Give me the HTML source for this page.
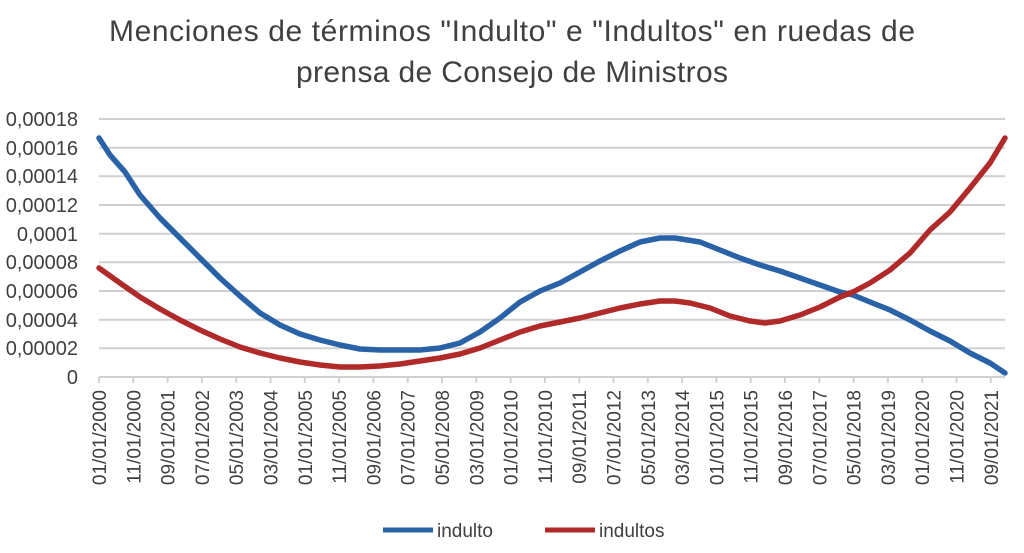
<!DOCTYPE html>
<html><head><meta charset="utf-8"><style>
body{margin:0;background:#fff;}
svg{display:block;font-family:"Liberation Sans",sans-serif;}
</style></head><body>
<svg width="1024" height="553" viewBox="0 0 1024 553">
<text x="512" y="41" font-size="30" fill="#404040" text-anchor="middle" textLength="806">Menciones de términos "Indulto" e "Indultos" en ruedas de</text>
<text x="512" y="82" font-size="30" fill="#404040" text-anchor="middle" textLength="432">prensa de Consejo de Ministros</text>
<g stroke="#d0d0d0" stroke-width="2">
<line x1="99" x2="1005" y1="119" y2="119"/><line x1="99" x2="1005" y1="147.7" y2="147.7"/>
<line x1="99" x2="1005" y1="176.3" y2="176.3"/><line x1="99" x2="1005" y1="205" y2="205"/>
<line x1="99" x2="1005" y1="233.7" y2="233.7"/><line x1="99" x2="1005" y1="262.3" y2="262.3"/>
<line x1="99" x2="1005" y1="291" y2="291"/><line x1="99" x2="1005" y1="319.7" y2="319.7"/>
<line x1="99" x2="1005" y1="348.3" y2="348.3"/><line x1="99" x2="1005" y1="377" y2="377"/>
</g>
<g font-size="20" fill="#404040" text-anchor="end">
<text x="78" y="126">0,00018</text><text x="78" y="155">0,00016</text><text x="78" y="183">0,00014</text>
<text x="78" y="212">0,00012</text><text x="78" y="241">0,0001</text><text x="78" y="269">0,00008</text>
<text x="78" y="298">0,00006</text><text x="78" y="327">0,00004</text><text x="78" y="355">0,00002</text>
<text x="78" y="384">0</text>
</g>
<g stroke="#d0d0d0" stroke-width="2">
<line x1="99" x2="99" y1="377" y2="383"/><line x1="133.3" x2="133.3" y1="377" y2="383"/><line x1="167.6" x2="167.6" y1="377" y2="383"/><line x1="201.9" x2="201.9" y1="377" y2="383"/><line x1="236.2" x2="236.2" y1="377" y2="383"/><line x1="270.5" x2="270.5" y1="377" y2="383"/><line x1="304.8" x2="304.8" y1="377" y2="383"/><line x1="339.1" x2="339.1" y1="377" y2="383"/><line x1="373.4" x2="373.4" y1="377" y2="383"/><line x1="407.7" x2="407.7" y1="377" y2="383"/><line x1="442" x2="442" y1="377" y2="383"/><line x1="476.3" x2="476.3" y1="377" y2="383"/><line x1="510.6" x2="510.6" y1="377" y2="383"/><line x1="544.9" x2="544.9" y1="377" y2="383"/><line x1="579.2" x2="579.2" y1="377" y2="383"/><line x1="613.5" x2="613.5" y1="377" y2="383"/><line x1="647.8" x2="647.8" y1="377" y2="383"/><line x1="682.1" x2="682.1" y1="377" y2="383"/><line x1="716.4" x2="716.4" y1="377" y2="383"/><line x1="750.7" x2="750.7" y1="377" y2="383"/><line x1="785" x2="785" y1="377" y2="383"/><line x1="819.3" x2="819.3" y1="377" y2="383"/><line x1="853.6" x2="853.6" y1="377" y2="383"/><line x1="887.9" x2="887.9" y1="377" y2="383"/><line x1="922.2" x2="922.2" y1="377" y2="383"/><line x1="956.5" x2="956.5" y1="377" y2="383"/><line x1="990.8" x2="990.8" y1="377" y2="383"/>
</g>
<g font-size="19" fill="#404040" text-anchor="end">
<text transform="translate(106,390) rotate(-90)">01/01/2000</text>
<text transform="translate(140.3,390) rotate(-90)">11/01/2000</text>
<text transform="translate(174.6,390) rotate(-90)">09/01/2001</text>
<text transform="translate(208.9,390) rotate(-90)">07/01/2002</text>
<text transform="translate(243.2,390) rotate(-90)">05/01/2003</text>
<text transform="translate(277.5,390) rotate(-90)">03/01/2004</text>
<text transform="translate(311.8,390) rotate(-90)">01/01/2005</text>
<text transform="translate(346.1,390) rotate(-90)">11/01/2005</text>
<text transform="translate(380.4,390) rotate(-90)">09/01/2006</text>
<text transform="translate(414.7,390) rotate(-90)">07/01/2007</text>
<text transform="translate(449,390) rotate(-90)">05/01/2008</text>
<text transform="translate(483.3,390) rotate(-90)">03/01/2009</text>
<text transform="translate(517.6,390) rotate(-90)">01/01/2010</text>
<text transform="translate(551.9,390) rotate(-90)">11/01/2010</text>
<text transform="translate(586.2,390) rotate(-90)">09/01/2011</text>
<text transform="translate(620.5,390) rotate(-90)">07/01/2012</text>
<text transform="translate(654.8,390) rotate(-90)">05/01/2013</text>
<text transform="translate(689.1,390) rotate(-90)">03/01/2014</text>
<text transform="translate(723.4,390) rotate(-90)">01/01/2015</text>
<text transform="translate(757.7,390) rotate(-90)">11/01/2015</text>
<text transform="translate(792,390) rotate(-90)">09/01/2016</text>
<text transform="translate(826.3,390) rotate(-90)">07/01/2017</text>
<text transform="translate(860.6,390) rotate(-90)">05/01/2018</text>
<text transform="translate(894.9,390) rotate(-90)">03/01/2019</text>
<text transform="translate(929.2,390) rotate(-90)">01/01/2020</text>
<text transform="translate(963.5,390) rotate(-90)">11/01/2020</text>
<text transform="translate(997.8,390) rotate(-90)">09/01/2021</text>
</g>
<polyline fill="none" stroke="#2a62a8" stroke-width="5.5" stroke-linejoin="round" stroke-linecap="round" points="99,138 110,155 125,172 140,195 160,218 180,238 200,258 220,278 240,296 260,313 280,325 300,334 320,340 340,345 360,349 380,350 400,350 420,350 440,348 460,343 480,332 500,318 520,302 540,291 560,283 580,272 600,261 620,251 640,242 660,238 675,238 700,242 720,250 740,258 760,265 780,271 800,278 820,285 840,292 853,295 870,302 890,310 910,320 930,331 950,341 970,353 990,363 1005,373"/>
<polyline fill="none" stroke="#b02a2a" stroke-width="5.5" stroke-linejoin="round" stroke-linecap="round" points="99,268 120,283 140,297 160,309 180,320 200,330 220,339 240,347 260,353 280,358 300,362 320,365 340,367 360,367 380,366 400,364 420,361 440,358 460,354 480,348 500,340 520,332 540,326 560,322 580,318 600,313 620,308 640,304 660,301 675,301 690,303 710,308 730,316 750,321 765,323 780,321 800,315 820,307 840,297 853,292 870,283 890,270 910,253 930,230 950,212 970,188 990,163 1005,138"/>
<line x1="383" y1="530" x2="433" y2="530" stroke="#2a62a8" stroke-width="5"/>
<text x="437" y="537" font-size="19" fill="#404040">indulto</text>
<line x1="545" y1="530" x2="595" y2="530" stroke="#b02a2a" stroke-width="5"/>
<text x="599" y="537" font-size="19" fill="#404040">indultos</text>
</svg>
</body></html>
